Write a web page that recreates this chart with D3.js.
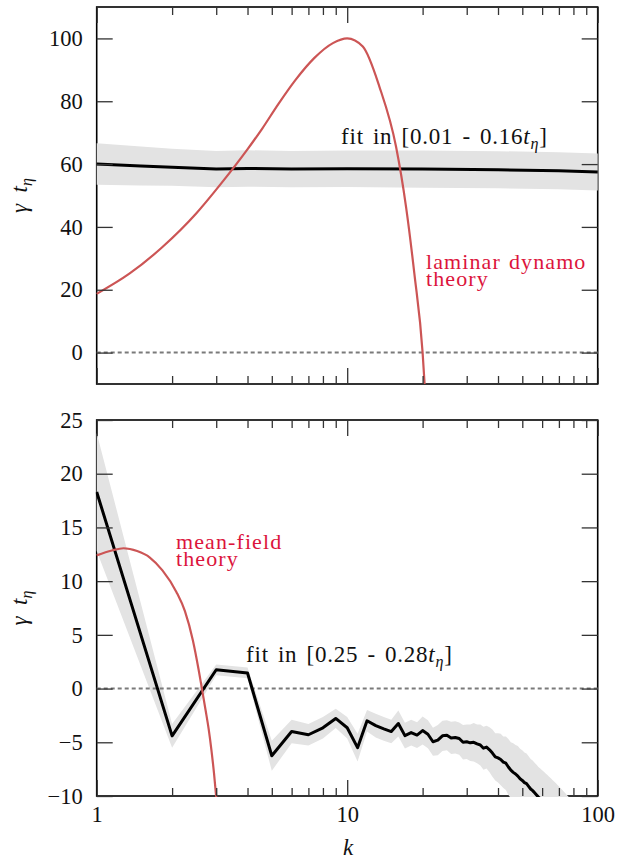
<!DOCTYPE html>
<html><head><meta charset="utf-8">
<script src="https://cdn.jsdelivr.net/npm/d3@7"></script>
<style>body{margin:0;background:#fff}</style>
</head><body>
<svg id="c" width="618" height="859"></svg>
<script>
// ---------- DATA ----------
const kMajor = [1, 10, 100];
const kMinor = [2,3,4,5,6,7,8,9,20,30,40,50,60,70,80,90];
const topYTicks = [0, 20, 40, 60, 80, 100];
const botYTicks = [-10, -5, 0, 5, 10, 15, 20, 25];
const botXLabels = ["1", "10", "100"];

// top panel: fit in [0.01 - 0.16 t_eta]
const topFitK     = [1, 1.5, 2, 3, 4, 6, 10, 20, 40, 70, 100];
const topFitGamma = [60, 59.4, 59, 58.4, 58.6, 58.4, 58.5, 58.4, 58.2, 57.9, 57.5];
const topFitErr   = [6.6, 6.2, 5.9, 5.8, 5.8, 5.8, 5.8, 5.9, 5.9, 5.9, 5.9];

// top panel: laminar dynamo theory
const laminarK     = [1, 1.35, 1.83, 2.49, 3.13, 3.99, 4.58, 5.3, 6.22, 7.4, 8.77, 10, 11.54, 13.45, 15.67, 17.18, 18.54, 20.0, 20.37];
const laminarGamma = [18.7, 25.1, 33.6, 44.2, 53.7, 64.6, 71.3, 79.0, 86.8, 93.8, 98.5, 100, 97.4, 84.6, 65.5, 46.3, 25.1, 0, -10];

// bottom panel: fit in [0.25 - 0.28 t_eta], integer wavenumbers
const botK = [1,2,3,4,5,6,7,8,9,10,11,12,13,14,15,16,17,18,19,20,
  21,22,23,24,25,26,27,28,29,30,31,32,33,34,35,36,37,38,39,40,
  41,42,43,44,45,46,47,48,49,50,51,52,53,54,55,56,57,58,59,60,
  61,62,63,64,65,66,67,68,69,70,71,72,73,74,75,76,77,78,79,80];
const botGamma = [18.3,-4.4,1.75,1.45,-6.25,-4.0,-4.3,-3.65,-2.78,-3.65,
  -5.5,-3.0,-3.45,-3.75,-4.0,-3.25,-4.38,-4.1,-4.33,-3.91,
  -4.25,-4.95,-4.8,-4.4,-4.35,-4.6,-4.55,-4.65,-5.0,-4.95,
  -5.05,-5.0,-5.15,-5.25,-5.55,-5.45,-5.7,-6.0,-6.35,-6.45,
  -6.6,-6.85,-6.95,-7.3,-7.6,-7.8,-7.95,-8.15,-8.4,-8.55,
  -8.75,-8.85,-9.1,-9.35,-9.5,-9.7,-9.9,-10.1,-10.25,-10.4,
  -10.55,-10.7,-10.85,-11.0,-11.15,-11.3,-11.45,-11.6,-11.75,-11.9,
  -12.05,-12.2,-12.35,-12.5,-12.65,-12.8,-12.95,-13.1,-13.25,-13.4];
const botErr = [5.5,1.1,0.5,0.5,1.4,1.1,1.0,1.0,0.9,1.0,
  1.3,1.0,1.1,1.1,1.1,1.2,1.2,1.2,1.2,1.3,
  1.3,1.3,1.4,1.4,1.4,1.5,1.5,1.5,1.6,1.6,
  1.7,1.8,1.8,1.9,2.0,2.0,2.1,2.2,2.2,2.3,
  2.4,2.4,2.5,2.6,2.6,2.7,2.7,2.8,2.8,2.8,
  2.8,2.8,2.8,2.8,2.8,2.8,2.8,2.8,2.8,2.8,
  2.8,2.8,2.8,2.8,2.8,2.8,2.8,2.8,2.8,2.8,
  2.8,2.8,2.8,2.8,2.8,2.8,2.8,2.8,2.8,2.8];

// bottom panel: mean-field theory
const meanK     = [1, 1.15, 1.28, 1.45, 1.63, 1.83, 2.08, 2.25, 2.42, 2.55, 2.63, 2.72, 2.80, 2.87, 2.94, 3.0];
const meanGamma = [12.4, 12.85, 13.06, 12.8, 12.2, 11.0, 9.0, 7.2, 4.5, 1.8, 0, -2.0, -3.8, -5.7, -7.9, -10.1];

// ---------- DRAW ----------
const FONT = "Liberation Serif";
const svg = d3.select("#c");
const X0 = 96.7, X1 = 597.7;
const x = d3.scaleLog().domain([1, 100]).range([X0, X1]);

const panels = [
  { id: "cTop", top: 7, bottom: 384, domain: [-10, 110], yTicks: topYTicks,
    fitK: topFitK, fitG: topFitGamma, fitE: topFitErr,
    thK: laminarK, thG: laminarGamma, xLabels: false },
  { id: "cBot", top: 420, bottom: 796, domain: [-10, 25], yTicks: botYTicks,
    fitK: botK, fitG: botGamma, fitE: botErr,
    thK: meanK, thG: meanGamma, xLabels: true }
];

const fs = 22.5;

panels.forEach(p => {
  const y = d3.scaleLinear().domain(p.domain).range([p.bottom, p.top]);
  const g = svg.append("g");
  svg.append("clipPath").attr("id", p.id).append("rect")
    .attr("x", X0 - 1).attr("y", p.top - 1).attr("width", X1 - X0 + 2).attr("height", p.bottom - p.top + 2);

  g.append("rect").attr("x", X0).attr("y", p.top).attr("width", X1 - X0).attr("height", p.bottom - p.top)
    .attr("fill", "none").attr("stroke", "#000").attr("stroke-width", 1.6);

  const cg = g.append("g").attr("clip-path", `url(#${p.id})`);
  const fit = p.fitK.map((k, i) => ({ k, v: p.fitG[i], e: p.fitE[i] }));
  cg.append("path").datum(fit)
    .attr("d", d3.area().x(d => x(d.k)).y0(d => y(d.v - d.e)).y1(d => y(d.v + d.e)))
    .attr("fill", "#e3e3e3");

  cg.append("line").attr("x1", X0).attr("x2", X1).attr("y1", y(0)).attr("y2", y(0))
    .attr("stroke", "#7a7a7a").attr("stroke-width", 2).attr("stroke-dasharray", "4,3");

  cg.append("path").datum(fit)
    .attr("d", d3.line().x(d => x(d.k)).y(d => y(d.v)))
    .attr("fill", "none").attr("stroke", "#000").attr("stroke-width", 3).attr("stroke-linejoin", "round");

  const th = p.thK.map((k, i) => ({ k, v: p.thG[i] }));
  cg.append("path").datum(th)
    .attr("d", d3.line().curve(d3.curveMonotoneX).x(d => x(d.k)).y(d => y(d.v)))
    .attr("fill", "none").attr("stroke", "#cc5555").attr("stroke-width", 2.2);

  const tickCol = "#333";
  const left = g.append("g").attr("transform", `translate(${X0},0)`)
    .call(d3.axisLeft(y).tickValues(p.yTicks).tickSize(-16).tickPadding(14).tickFormat(d3.format("d")));
  const right = g.append("g").attr("transform", `translate(${X1},0)`)
    .call(d3.axisRight(y).tickValues(p.yTicks).tickSize(-16).tickFormat(""));
  const topMaj = g.append("g").attr("transform", `translate(0,${p.top})`)
    .call(d3.axisTop(x).tickValues(kMajor).tickSize(-16).tickFormat(""));
  const topMin = g.append("g").attr("transform", `translate(0,${p.top})`)
    .call(d3.axisTop(x).tickValues(kMinor).tickSize(-8).tickFormat(""));
  const botMaj = g.append("g").attr("transform", `translate(0,${p.bottom})`)
    .call(d3.axisBottom(x).tickValues(kMajor).tickSize(-16).tickPadding(10)
      .tickFormat((d, i) => p.xLabels ? botXLabels[i] : ""));
  const botMin = g.append("g").attr("transform", `translate(0,${p.bottom})`)
    .call(d3.axisBottom(x).tickValues(kMinor).tickSize(-8).tickFormat(""));
  [left, right, topMaj, topMin, botMaj, botMin].forEach(a => {
    a.attr("font-family", FONT).attr("font-size", fs);
    a.select(".domain").remove();
    a.selectAll("line").attr("stroke", tickCol).attr("stroke-width", 1.3);
    a.selectAll("text").attr("font-family", FONT).attr("font-size", fs).attr("fill", "#111");
    a.selectAll("text").filter(function () { return this.textContent === ""; }).remove();
  });

  const yl = svg.append("text")
    .attr("transform", `translate(27,${(p.top + p.bottom) / 2}) rotate(-90)`)
    .attr("text-anchor", "middle").attr("font-family", FONT).attr("font-size", 23).attr("fill", "#111");
  yl.append("tspan").attr("font-style", "italic").text("γ");
  yl.append("tspan").text("\u2002");
  yl.append("tspan").attr("font-style", "italic").text("t");
  yl.append("tspan").attr("font-style", "italic").attr("font-size", 16).attr("dy", 5).text("η");
});

function fitLabel(xp, yp, txt) {
  const t = svg.append("text").attr("x", xp).attr("y", yp)
    .attr("font-family", FONT).attr("font-size", 23).attr("fill", "#111")
    .attr("letter-spacing", 0.8).attr("word-spacing", 2.5);
  t.append("tspan").text(txt);
  t.append("tspan").attr("font-style", "italic").text("t");
  t.append("tspan").attr("font-style", "italic").attr("font-size", 16).attr("dy", 5).text("η");
  t.append("tspan").attr("dy", -5).text("]");
}
fitLabel(341, 144, "fit in [0.01 - 0.16");
fitLabel(246, 662, "fit in [0.25 - 0.28");

function redLabel(xp, yp, lines) {
  const t = svg.append("text").attr("x", xp).attr("y", yp)
    .attr("font-family", FONT).attr("font-size", 22).attr("fill", "#dc143c")
    .attr("letter-spacing", 1.1).attr("word-spacing", 1.5);
  lines.forEach((l, i) => {
    t.append("tspan").attr("x", xp).attr("dy", i === 0 ? 0 : 17.5).text(l);
  });
}
redLabel(426, 268.5, ["laminar dynamo", "theory"]);
redLabel(176, 548.5, ["mean-field", "theory"]);

svg.append("text").attr("x", 348).attr("y", 855).attr("text-anchor", "middle")
  .attr("font-family", FONT).attr("font-size", 23).attr("font-style", "italic").attr("fill", "#111").text("k");
</script>
</body></html>
